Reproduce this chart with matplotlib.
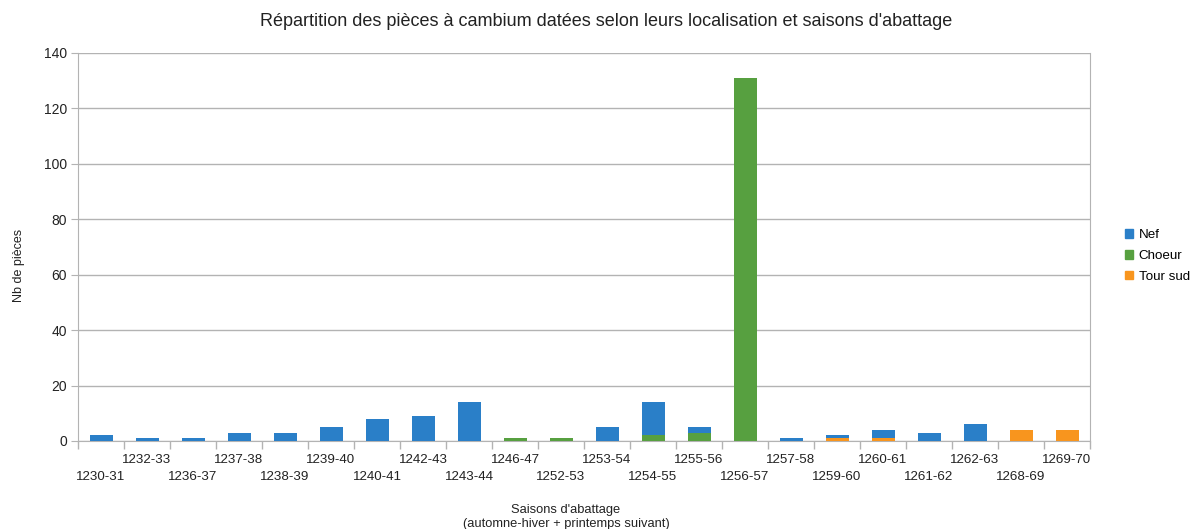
import matplotlib
matplotlib.use("Agg")
import matplotlib.pyplot as plt
import matplotlib.transforms as mtransforms
import numpy as np
from matplotlib.patches import Patch

plt.rcParams['font.family'] = ['Liberation Sans', 'DejaVu Sans']

categories = ["1230-31", "1232-33", "1236-37", "1237-38", "1238-39", "1239-40",
              "1240-41", "1242-43", "1243-44", "1246-47", "1252-53", "1253-54",
              "1254-55", "1255-56", "1256-57", "1257-58", "1259-60", "1260-61",
              "1261-62", "1262-63", "1268-69", "1269-70"]
nef =      [2, 1, 1, 3, 3, 5, 8, 9, 14, 0, 0, 5, 12, 2, 0, 1, 1, 3, 3, 6, 0, 0]
choeur =   [0, 0, 0, 0, 0, 0, 0, 0, 0, 1, 1, 0, 2, 3, 131, 0, 0, 0, 0, 0, 0, 0]
tour_sud = [0, 0, 0, 0, 0, 0, 0, 0, 0, 0, 0, 0, 0, 0, 0, 0, 1, 1, 0, 0, 4, 4]

c_nef = '#2a7fc8'
c_choeur = '#57a040'
c_tour = '#f8951e'
txt = '#222222'

fig = plt.figure(figsize=(11.91, 5.29), dpi=100)
ax = fig.add_axes([78/1191, 1-441/529, (1090-78)/1191, (441-53)/529])

x = np.arange(len(categories))
w = 0.5
ch = np.array(choeur)
ts = np.array(tour_sud)
nf = np.array(nef)
ax.bar(x, ch, w, color=c_choeur, zorder=3)
ax.bar(x, ts, w, bottom=ch, color=c_tour, zorder=3)
ax.bar(x, nf, w, bottom=ch + ts, color=c_nef, zorder=3)

ax.set_xlim(-0.5, len(categories) - 0.5)
ax.set_ylim(0, 140)
ax.set_yticks(range(0, 141, 20))
ax.yaxis.grid(True, color='#b3b3b3', linewidth=1, zorder=0)
ax.tick_params(axis='y', labelsize=10, length=5, color='#b3b3b3', pad=3, labelcolor=txt)

# category boundary ticks
ax.set_xticks(np.arange(-0.5, len(categories), 1.0))
ax.set_xticklabels([])
ax.tick_params(axis='x', length=6, color='#b3b3b3', width=1)

# staggered category labels
trans = mtransforms.blended_transform_factory(ax.transData, fig.transFigure)
for i, c in enumerate(categories):
    yy = 460 if i % 2 == 1 else 477
    ax.text(x[i], 1 - yy/529, c, transform=trans, ha='center', va='center',
            fontsize=9.6, color=txt, clip_on=False)

for s in ['left', 'right', 'bottom', 'top']:
    ax.spines[s].set_color('#b3b3b3')
ax.spines['top'].set_visible(False)

fig.text(606/1191, 1-22/529, "Répartition des pièces à cambium datées selon leurs localisation et saisons d'abattage",
         ha='center', va='center', fontsize=13, color=txt)
fig.text(19/1191, 1-265/529, "Nb de pièces", rotation=90, ha='center', va='center',
         fontsize=9, color=txt)
fig.text(566/1191, 1-517/529, "Saisons d'abattage\n(automne-hiver + printemps suivant)",
         ha='center', va='center', fontsize=9.3, color=txt, linespacing=1.3)

handles = [Patch(color=c_nef, label='Nef'), Patch(color=c_choeur, label='Choeur'),
           Patch(color=c_tour, label='Tour sud')]
fig.legend(handles=handles, loc='center left', bbox_to_anchor=(1120/1191, 1-256/529),
           frameon=False, fontsize=9.6, handlelength=0.6, handleheight=0.6,
           handletextpad=0.4, labelspacing=0.65, borderaxespad=0)

fig.savefig("out.png", dpi=100)
